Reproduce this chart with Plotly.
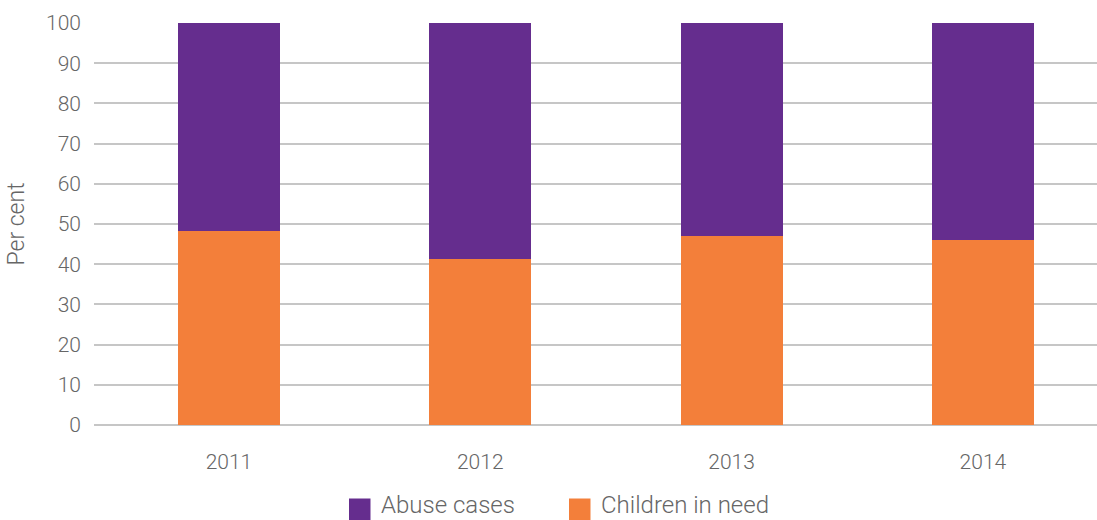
import plotly.graph_objects as go

# Share of cases by category, per year (per cent)
years = ["2011", "2012", "2013", "2014"]
children_in_need = [48.2, 41.3, 47.0, 46.0]
abuse_cases = [round(100 - v, 1) for v in children_in_need]

series_names = ["Abuse cases", "Children in need"]
PURPLE = "#652d8e"
ORANGE = "#f37f3a"
TEXT = "#666666"
GRID = "#c6c6c6"
FONT = "Roboto"

W, H = 1097, 520
ML, MR, MT, MB = 94, 0, 23, 95

fig = go.Figure()
fig.add_trace(go.Bar(x=years, y=children_in_need, name=series_names[1],
                     marker=dict(color=ORANGE, line=dict(width=0)),
                     width=0.406, showlegend=False))
fig.add_trace(go.Bar(x=years, y=abuse_cases, name=series_names[0],
                     marker=dict(color=PURPLE, line=dict(width=0)),
                     width=0.406, showlegend=False))

# Hand-built legend below the plot with larger square swatches
plot_w = W - ML - MR
plot_h = H - MT - MB
def px_x(p):
    return (p - ML) / plot_w
def px_y(p):
    return (H - MB - p) / plot_h

legend_items = [(series_names[0], PURPLE, 349), (series_names[1], ORANGE, 569)]
for name, color, left in legend_items:
    fig.add_shape(type="rect", xref="paper", yref="paper",
                  x0=px_x(left), x1=px_x(left + 21.5),
                  y0=px_y(498.5), y1=px_y(520),
                  fillcolor=color, line=dict(width=0))
    fig.add_annotation(xref="paper", yref="paper", x=px_x(left + 31), y=px_y(520),
                       text=name, showarrow=False, xanchor="left", yanchor="bottom",
                       borderpad=0,
                       font=dict(family=FONT, size=24, color=TEXT, weight=300))

fig.update_layout(
    width=W, height=H,
    barmode="stack",
    bargap=0.6,
    margin=dict(l=ML, r=MR, t=MT, b=MB, pad=0),
    paper_bgcolor="white", plot_bgcolor="white",
    font=dict(family=FONT, size=21, color=TEXT, weight=300),
    xaxis=dict(range=[-0.537, 3.454], showgrid=False, zeroline=False,
               showline=False, ticks="", ticklabelstandoff=22,
               tickfont=dict(family=FONT, size=21, color=TEXT, weight=300)),
    yaxis=dict(range=[0, 100], dtick=10, showgrid=True, gridcolor=GRID, gridwidth=1.5,
               zeroline=True, zerolinecolor=GRID, zerolinewidth=1.5,
               showline=False, ticks="", ticklabelstandoff=12,
               tickfont=dict(family=FONT, size=21, color=TEXT, weight=300),
               title=dict(text="Per cent", standoff=14,
                          font=dict(family=FONT, size=23, color=TEXT, weight=300))),
)

fig.write_html("out.html")
